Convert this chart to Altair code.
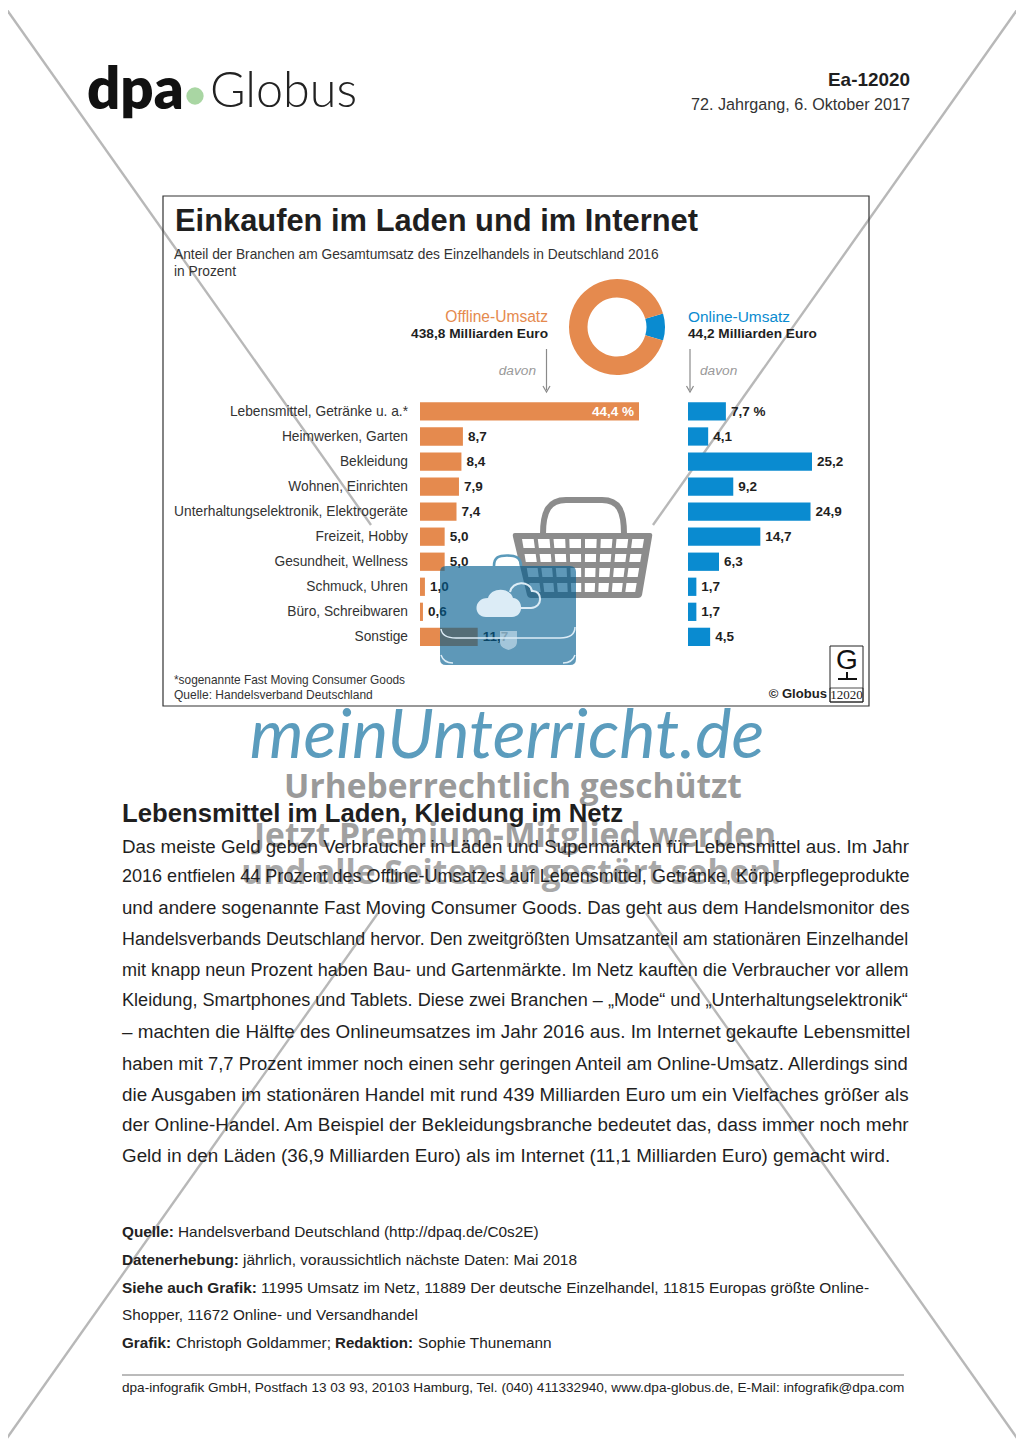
import math
import unicodedata
import altair as alt
import pandas as pd

# ---------- data ----------
categories = ["Lebensmittel, Getränke u. a.*", "Heimwerken, Garten", "Bekleidung", "Wohnen, Einrichten",
              "Unterhaltungselektronik, Elektrogeräte", "Freizeit, Hobby", "Gesundheit, Wellness",
              "Schmuck, Uhren", "Büro, Schreibwaren", "Sonstige"]
offline_share = [44.4, 8.7, 8.4, 7.9, 7.4, 5.0, 5.0, 1.0, 0.6, 11.7]
online_share = [7.7, 4.1, 25.2, 9.2, 24.9, 14.7, 6.3, 1.7, 1.7, 4.5]
channels = ["Online-Umsatz", "Offline-Umsatz"]
channel_total = [44.2, 438.8]

body_lines = [
    "Das meiste Geld geben Verbraucher in Läden und Supermärkten für Lebensmittel aus. Im Jahr",
    "2016 entfielen 44 Prozent des Offline-Umsatzes auf Lebensmittel, Getränke, Körperpflegeprodukte",
    "und andere sogenannte Fast Moving Consumer Goods. Das geht aus dem Handelsmonitor des",
    "Handelsverbands Deutschland hervor. Den zweitgrößten Umsatzanteil am stationären Einzelhandel",
    "mit knapp neun Prozent haben Bau- und Gartenmärkte. Im Netz kauften die Verbraucher vor allem",
    "Kleidung, Smartphones und Tablets. Diese zwei Branchen – „Mode“ und „Unterhaltungselektronik“",
    "– machten die Hälfte des Onlineumsatzes im Jahr 2016 aus. Im Internet gekaufte Lebensmittel",
    "haben mit 7,7 Prozent immer noch einen sehr geringen Anteil am Online-Umsatz. Allerdings sind",
    "die Ausgaben im stationären Handel mit rund 439 Milliarden Euro um ein Vielfaches größer als",
    "der Online-Handel. Am Beispiel der Bekleidungsbranche bedeutet das, dass immer noch mehr",
    "Geld in den Läden (36,9 Milliarden Euro) als im Internet (11,1 Milliarden Euro) gemacht wird.",
]

SANS = "Liberation Sans"
INK = "#1f1f1f"
ORANGE = "#e58a4e"
BLUE = "#0a8bd0"
GRAY = "#8c8c8c"
LINE = "#b8b8b8"
PALE = "#dcecf6"


# ---------- text width estimate, so each justified line gets its own font size ----------
def _table(spec):
    out = {}
    for width, chars in spec:
        for c in chars:
            out[c] = width
    return out


REG = _table([(278, " ,.:;/!ifjt"[:7]), (278, "ft"), (222, "ijl"), (333, "r()-„“"), (500, "cksvxyzJ"),
              (556, "abdeghnopqu0123456789–L"), (611, "FTß"), (667, "ABEKPSVXY"), (722, "CDHNRUw"),
              (778, "GOQ"), (833, "Mm"), (944, "W"), (278, "I")])
BLD = _table([(278, " ,.ijl/I"), (333, "ft:()-"), (389, "r"), (556, "acesvkxyJ0123456789"),
              (500, "z"), (611, "bdghnopquFTLß"), (667, "ES"), (722, "ABCDHKNRU"),
              (778, "GOQw"), (833, "M"), (889, "m"), (944, "W"), (667, "PVXY")])


def em_width(text, bold=False):
    table = BLD if bold else REG
    total = 0
    for ch in text:
        base = unicodedata.normalize("NFD", ch)[0]
        total += table.get(base, 556)
    return total / 1000


one = pd.DataFrame({"k": [0]})


def T(text, x, y, size=None, target=None, bold=False, color=INK, align="left", font=SANS,
      italic=False, opacity=1.0, weight=None):
    if target is not None:
        size = target / em_width(text, bold)
    kw = {}
    if italic:
        kw["fontStyle"] = "italic"
    w = weight if weight is not None else ("bold" if bold else "normal")
    return alt.Chart(one).mark_text(text=text, font=font, fontSize=round(size, 2), fontWeight=w, color=color,
                                    align=align, baseline="middle", opacity=opacity, **kw).encode(
        x=alt.value(x - 8), y=alt.value(y - 8))


def P(path, fill=None, stroke=None, width=1.0, opacity=1.0):
    """Decoration drawn as a path in page pixels (symbol size 4 means one path unit is one pixel)."""
    if fill:
        m = alt.Chart(one).mark_point(shape=path, size=4, filled=True, fill=fill, opacity=opacity)
    else:
        m = alt.Chart(one).mark_point(shape=path, size=4, filled=False, stroke=stroke, strokeWidth=width,
                                      opacity=opacity)
    return m.encode(x=alt.value(-8), y=alt.value(-8))


def box(x0, y0, x1, y1):
    return f"M{x0} {y0}L{x1} {y0}L{x1} {y1}L{x0} {y1}Z"


layers = []

# watermark cross
for seg in ["M0 0L371 525", "M1024 0L653 525", "M646 913L1024 1448", "M378 913L0 1448"]:
    layers.append(P(seg, stroke=LINE, width=2.4))

# header
layers += [
    T("dpa", 87, 92, size=58, bold=True, color="#111111", font="Lato", weight=800),
    alt.Chart(one).mark_point(shape="circle", size=300, filled=True, fill="#a9d6a3", opacity=1).encode(
        x=alt.value(187), y=alt.value(88)),
    T("Globus", 210, 92, size=48.5, color="#222222", font="Lato", weight=300),
    T("Ea-12020", 910, 79.8, target=82, bold=True, align="right"),
    T("72. Jahrgang, 6. Oktober 2017", 910, 104.8, target=219, align="right", color="#333333"),
]

# chart box
layers.append(P(box(163, 196, 869, 706), stroke="#333333", width=1.2))
layers += [
    T("Einkaufen im Laden und im Internet", 175, 221.8, target=523, bold=True),
    T("Anteil der Branchen am Gesamtumsatz des Einzelhandels in Deutschland 2016", 174, 254.8, target=485, color="#333333"),
    T("in Prozent", 174, 271.8, target=62, color="#333333"),
    T("Offline-Umsatz", 548, 316.8, target=103, color=ORANGE, align="right"),
    T("438,8 Milliarden Euro", 548, 333.8, target=137, bold=True, align="right"),
    T("Online-Umsatz", 688, 316.8, target=102, color=BLUE),
    T("44,2 Milliarden Euro", 688, 333.8, target=129, bold=True),
    T("davon", 536, 370.8, size=13.7, italic=True, color="#9a9a9a", align="right"),
    T("davon", 700, 370.8, size=13.7, italic=True, color="#9a9a9a"),
]
for ax in (546.5, 690):
    layers.append(P(f"M{ax} 349L{ax} 390", stroke="#8a8a8a", width=1.2))
    layers.append(P(f"M{ax - 3.5} 386L{ax} 392L{ax + 3.5} 386", stroke="#8a8a8a", width=1.2))

# donut
donut_df = pd.DataFrame({"channel": channels, "total": channel_total, "ord": [0, 1]})
start = math.radians(90 - 0.5 * 360 * channel_total[0] / sum(channel_total))
layers.append(
    alt.Chart(donut_df).mark_arc(innerRadius=29.5, outerRadius=48).encode(
        theta=alt.Theta("total:Q", stack=True,
                        scale=alt.Scale(domain=[0, sum(channel_total)], range=[start, start + 2 * math.pi])),
        order=alt.Order("ord:Q"),
        color=alt.Color("channel:N", legend=None, scale=alt.Scale(domain=channels, range=[BLUE, ORANGE])),
        x=alt.value(609), y=alt.value(319)))

# bars
def lab(v):
    return f"{v:.1f}".replace(".", ",")


off_labels = [lab(v) + (" %" if i == 0 else "") for i, v in enumerate(offline_share)]
on_labels = [lab(v) + (" %" if i == 0 else "") for i, v in enumerate(online_share)]
df = pd.DataFrame({"cat": categories, "off": offline_share, "on": online_share,
                   "off_label": off_labels, "on_label": on_labels})
yscale = alt.Scale(domain=categories, range=[394.3, 638], paddingInner=0.27, paddingOuter=0)
Y = alt.Y("cat:N", sort=categories, scale=yscale, axis=None)
x_off = alt.Scale(domain=[0, 44.4], range=[412, 631])
x_on = alt.Scale(domain=[0, 25.2], range=[680, 804])
base = alt.Chart(df)
big = alt.Chart(df[df.off > 40])
rest = alt.Chart(df[df.off <= 40])
layers += [
    base.mark_text(align="right", baseline="middle", font=SANS, fontSize=13.75, color="#333333", dy=0.5).encode(
        y=Y, x=alt.value(400), text="cat:N"),
    base.mark_bar(color=ORANGE).encode(y=Y, x=alt.X("off:Q", scale=x_off, axis=None)),
    base.mark_bar(color=BLUE).encode(y=Y, x=alt.X("on:Q", scale=x_on, axis=None)),
    big.mark_text(align="right", baseline="middle", dx=-5, dy=0.5, font=SANS, fontSize=13.5, fontWeight="bold", color="white").encode(
        y=Y, x=alt.X("off:Q", scale=x_off, axis=None), text="off_label:N"),
    rest.mark_text(align="left", baseline="middle", dx=5, dy=0.5, font=SANS, fontSize=13.5, fontWeight="bold", color=INK).encode(
        y=Y, x=alt.X("off:Q", scale=x_off, axis=None), text="off_label:N"),
    base.mark_text(align="left", baseline="middle", dx=5, dy=0.5, font=SANS, fontSize=13.5, fontWeight="bold", color=INK).encode(
        y=Y, x=alt.X("on:Q", scale=x_on, axis=None), text="on_label:N"),
]

# box foot
layers += [
    T("*sogenannte Fast Moving Consumer Goods", 174, 680, target=233, color="#333333"),
    T("Quelle: Handelsverband Deutschland", 174, 695, target=199, color="#333333"),
    T("© Globus", 827, 694, target=56, bold=True, align="right"),
    P(box(830, 646, 863, 702), stroke="#222222", width=1),
    P(box(830, 688, 863, 702), stroke="#222222", width=0.8),
    T("G", 847, 661, size=28, align="center", color="#111111"),
    P("M847 672L847 678M838 679L857 679", stroke="#111111", width=2),
    T("12020", 846.5, 694.5, size=13, align="center", font="Liberation Sans Narrow", color="#222222"),
]

# basket
layers.append(P("M543 534C543 511 549 500 566 500L602 500C619 500 624 511 624 534", stroke=GRAY, width=6))
layers.append(P("M515 533L650 533Q653 533 652 537L642 595Q641 598 638 598L531 598Q528 598 527 595L513 537Q512 533 515 533Z", fill=GRAY))
cells = ""
rows = [(539, 548), (554, 562), (568, 577), (583, 592)]
for t, b in rows:
    for col in range(8):
        def corner(y, f):
            lx = 520 + (y - 539) * 9 / 53
            rx = 646 - (y - 539) * 9 / 53
            return round(lx + (rx - lx) * f, 1)
        f0, f1 = (col + 0.13) / 8, (col + 0.87) / 8
        cells += f"M{corner(t, f0)} {t}L{corner(t, f1)} {t}L{corner(b, f1)} {b}L{corner(b, f0)} {b}Z"
layers.append(P(cells, fill="white"))

# briefcase
CASE = "#005c8f"
layers += [
    P("M494 566C494 557 499 555.5 507 555.5C515 555.5 521 557 521 566", stroke="#5a9aba", width=2.6),
    P("M446 566L570 566Q576 566 576 572L576 659Q576 665 570 665L446 665Q440 665 440 659L440 572Q440 566 446 566Z",
      fill=CASE, opacity=0.63),
    P("M486 617C473 617 473 598 488 598C491 587 510 587 513 598C524 599 524 617 512 617Z", fill=PALE),
    P("M510 592C512 581 530 580 532 591C543 590 543 608 531 608L520 608", stroke=PALE, width=2),
    P("M441 629C442 636 448 638 456 638L560 638C570 638 575 635 575 627", stroke=PALE, width=1.5),
    P("M441 655C443 661 447 663 453 663M575 655C573 661 569 663 563 663", stroke=PALE, width=1.5),
    P("M500 631L517 631L517 642C517 647 512 649 508.5 650C505 649 500 647 500 642Z", fill=PALE, opacity=0.55),
]

# publisher watermark
layers += [
    T("meinUnterricht.de", 507, 737, size=68.5, color="#5b9cbd", align="center", font="Lato", italic=True, weight=400),
    T("Urheberrechtlich geschützt", 513, 788, size=33.5, bold=True, color="#9a9a9a", align="center", font="Open Sans"),
    T("Jetzt Premium-Mitglied werden", 515, 837, size=33.5, bold=True, color="#a0a0a0", align="center", font="Open Sans"),
    T("und alle Seiten ungestört sehen!", 511, 874, size=33.5, bold=True, color="#a8a8a8", align="center", font="Open Sans"),
]

# article
layers.append(T("Lebensmittel im Laden, Kleidung im Netz", 122, 814, target=501, bold=True))
body_y = [847, 877, 908, 940, 971, 1001, 1032, 1064, 1095, 1125, 1156]
for i, (line, y) in enumerate(zip(body_lines, body_y)):
    layers.append(T(line, 122, y, target=770 if i == len(body_lines) - 1 else 788))

# notes
notes = [
    ("Quelle:", 122, 1232, 52, True), ("Handelsverband Deutschland (http://dpaq.de/C0s2E)", 178, 1232, 361, False),
    ("Datenerhebung:", 122, 1260, 117, True), ("jährlich, voraussichtlich nächste Daten: Mai 2018", 243, 1260, 334, False),
    ("Siehe auch Grafik:", 122, 1288, 135, True),
    ("11995 Umsatz im Netz, 11889 Der deutsche Einzelhandel, 11815 Europas größte Online-", 261, 1288, 612, False),
    ("Shopper, 11672 Online- und Versandhandel", 122, 1315, 299, False),
    ("Grafik:", 122, 1343, 49, True), ("Christoph Goldammer;", 176, 1343, 155, False),
    ("Redaktion:", 335, 1343, 78, True), ("Sophie Thunemann", 418, 1343, 134, False),
]
for text, x, y, w, b in notes:
    layers.append(T(text, x, y, target=w, bold=b, color="#222222"))
layers.append(P("M122 1375L904 1375", stroke="#777777", width=1))
layers.append(T("dpa-infografik GmbH, Postfach 13 03 93, 20103 Hamburg, Tel. (040) 411332940, www.dpa-globus.de, E-Mail: infografik@dpa.com",
                122, 1388, target=780, color="#222222"))

chart = alt.layer(*layers).resolve_scale(x="independent").properties(
    width=1008, height=1432, padding=0, background="white",
    autosize=alt.AutoSizeParams(type="none"),
).configure_view(stroke=None)

chart.save("out.html", embed_options={"renderer": "svg", "actions": False})
